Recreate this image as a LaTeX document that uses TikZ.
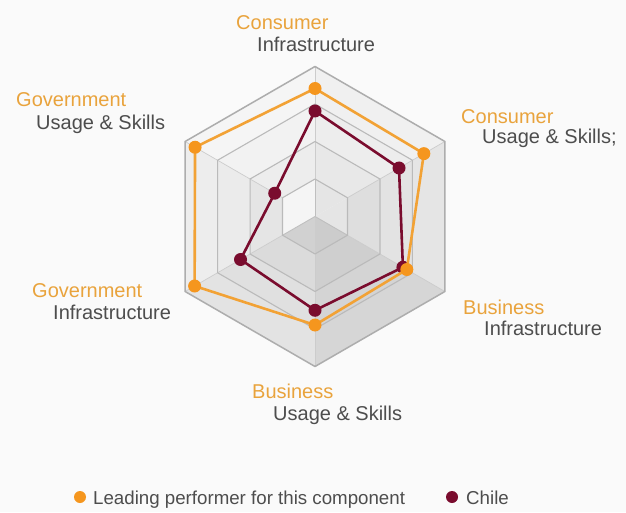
\documentclass[tikz,border=0pt]{standalone}
\usepackage{fontspec}
\setmainfont{Liberation Sans}
\usetikzlibrary{calc}
\definecolor{lblorange}{HTML}{E9A33C}
\definecolor{lblgray}{HTML}{4D4D4D}
\definecolor{dotorange}{HTML}{F5961E}
\definecolor{lineorange}{HTML}{F2A235}
\definecolor{chilered}{HTML}{7A0C2E}
\tikzset{
  ringline/.style={draw=black!27, line width=1.1pt, line join=round},
  outerline/.style={draw=black!32, line width=1.5pt, line join=round},
  spoke/.style={draw=black!20, line width=0.7pt},
  cubeedge/.style={draw=black!25, line width=0.9pt},
  odot/.style={circle, fill=dotorange, inner sep=0pt, minimum size=13pt},
  cdot/.style={circle, fill=chilered, inner sep=0pt, minimum size=13pt},
  oline/.style={draw=lineorange, line width=2.6pt, line join=round},
  cline/.style={draw=chilered, line width=2.6pt, line join=round},
  cat/.style={text=lblorange, font=\fontsize{20}{24}\selectfont, anchor=base west, inner sep=0pt},
  sub/.style={text=lblgray, font=\fontsize{20}{24}\selectfont, anchor=base west, inner sep=0pt},
  legtext/.style={text=lblgray, font=\fontsize{18.7}{22}\selectfont, anchor=base west, inner sep=0pt},
}
\begin{document}
\begin{tikzpicture}[x=1pt,y=1pt]
\useasboundingbox (0,0) rectangle (626,512);
\fill[black!2] (0,0) rectangle (626,512);
\coordinate (C) at (315,295.5);
% shaded faces of the annuli
\foreach \a/\g in {90/6,30/10,-30/16,-90/11,-150/7,150/4}{
  \foreach \k/\d in {2/3,3/1,4/0}{
    \pgfmathtruncatemacro\pc{\g+\d}
    \pgfmathsetmacro\ri{(\k-1)*37.5}
    \pgfmathsetmacro\ro{\k*37.5}
    \fill[black!\pc] ($(C)+(\a:\ri)$) -- ($(C)+(\a:\ro)$) -- ($(C)+(\a-60:\ro)$) -- ($(C)+(\a-60:\ri)$) -- cycle;
  }
}
% inner cube
\foreach \a/\g in {90/10,30/10,-30/20,-90/18,-150/4,150/4}{
  \fill[black!\g] (C) -- ($(C)+(\a:37.5)$) -- ($(C)+(\a-60:37.5)$) -- cycle;
}
% spokes
\foreach \a in {90,30,-30,-90,-150,150}{
  \draw[spoke] ($(C)+(\a:37.5)$) -- ($(C)+(\a:150)$);
}
\foreach \a in {90,-30,-150}{
  \draw[cubeedge] (C) -- ($(C)+(\a:37.5)$);
}
% rings
\foreach \r in {37.5,75,112.5}{
  \draw[ringline, shift={(C)}] (90:\r) -- (30:\r) -- (-30:\r) -- (-90:\r) -- (-150:\r) -- (150:\r) -- cycle;
}
\draw[outerline, shift={(C)}] (90:150) -- (30:150) -- (-30:150) -- (-90:150) -- (-150:150) -- (150:150) -- cycle;
% data points
\coordinate (o1) at ($(C)+(90:128)$);
\coordinate (o2) at ($(C)+(30:125.7)$);
\coordinate (o3) at ($(C)+(-30:106)$);
\coordinate (o4) at ($(C)+(-90:108.5)$);
\coordinate (o5) at ($(C)+(-150:139)$);
\coordinate (o6) at ($(C)+(150:138.5)$);
\coordinate (c1) at ($(C)+(90:105.5)$);
\coordinate (c2) at ($(C)+(30:97)$);
\coordinate (c3) at ($(C)+(-30:101.5)$);
\coordinate (c4) at ($(C)+(-90:93.8)$);
\coordinate (c5) at ($(C)+(-150:86)$);
\coordinate (c6) at ($(C)+(150:46.5)$);
\draw[cline] (c1) -- (c2) -- (c3) -- (c4) -- (c5) -- (c6) -- cycle;
\foreach \i in {1,...,6}{ \node[cdot] (cd\i) at (c\i) {}; }
\draw[oline] (o1) -- (o2) -- (o3) -- (o4) -- (o5) -- (o6) -- cycle;
\foreach \i in {1,...,6}{ \node[odot] (od\i) at (o\i) {}; }
% labels
\node[cat] (l1a) at (236,482) {Consumer};
\node[sub] (l1b) at (257,460) {Infrastructure};
\node[cat] (l2a) at (461,388) {Consumer};
\node[sub] (l2b) at (482,368) {Usage \& Skills;};
\node[cat] (l3a) at (463,198) {Business};
\node[sub] (l3b) at (484,177) {Infrastructure};
\node[cat] (l4a) at (252,114) {Business};
\node[sub] (l4b) at (273,92) {Usage \& Skills};
\node[cat] (l5a) at (32,215) {Government};
\node[sub] (l5b) at (53,193) {Infrastructure};
\node[cat] (l6a) at (16,405) {Government};
\node[sub] (l6b) at (36,382) {Usage \& Skills};
% legend
\node[odot, minimum size=12pt] (lgo) at (80,15) {};
\node[legtext] (lgot) at (93,8) {Leading performer for this component};
\node[cdot, minimum size=12pt] (lgc) at (452,15) {};
\node[legtext] (lgct) at (466,8) {Chile};
\end{tikzpicture}
\end{document}
